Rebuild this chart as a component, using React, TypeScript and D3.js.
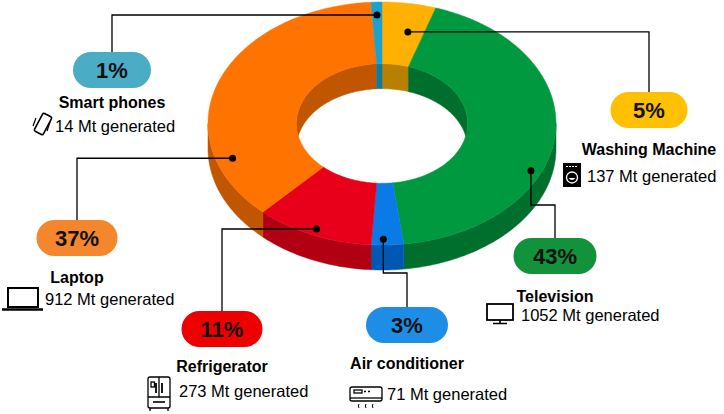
import React from "react";
import * as d3 from "d3";

// e-waste share by device, clockwise from 12 o'clock
const categories = ["Washing Machine", "Television", "Air conditioner", "Refrigerator", "Laptop", "Smart phones"];
const shares = [5, 43, 3, 11, 37, 1];
const generatedMt = [137, 1052, 71, 273, 912, 14];

// styles
const topColors = ["#ffb000", "#00993f", "#0a7ae6", "#e8001a", "#ff7300", "#1ba1cf"];
const sideColors = ["#b88000", "#006f2d", "#0058b4", "#b00012", "#c05600", "#127a9c"];
const pillColors = ["#ffc000", "#12923a", "#1e8de6", "#ee0000", "#f4862e", "#4bacc6"];

// callout layout (dot position inside the slice + label block)
type Callout = {
  t: number; // fraction along slice angle
  f: number; // radius fraction
  kind: "h" | "v";
  elbowY?: number;
  px: number; // pill centre x
  py: number; // pill top
  pw: number;
  nameY: number;
  detX: number;
  detY: number;
  icon: string;
};

const callouts: Callout[] = [
  { t: 0.62, f: 0.768, kind: "h", px: 649, py: 92, pw: 77, nameY: 155, detX: 587, detY: 182, icon: "washer" },
  { t: 0.623, f: 0.94, kind: "v", elbowY: 205, px: 555, py: 238, pw: 83, nameY: 302, detX: 521, detY: 321, icon: "tv" },
  { t: 0.625, f: 0.953, kind: "v", elbowY: 273, px: 407, py: 307, pw: 82, nameY: 369, detX: 387, detY: 400, icon: "ac" },
  { t: 0.5, f: 0.946, kind: "h", px: 222, py: 311, pw: 81, nameY: 372, detX: 179, detY: 397, icon: "fridge" },
  { t: 0.213, f: 0.905, kind: "h", px: 77, py: 220, pw: 81, nameY: 283, detX: 45, detY: 305, icon: "laptop" },
  { t: 0.49, f: 0.8935, kind: "h", px: 112, py: 52, pw: 78, nameY: 108, detX: 55, detY: 132, icon: "phone" },
];

const W = 724;
const H = 414;
const cx = 382;
const cy = 123.5;
const RX = 174;
const RY = 121.5;
const INNER = 0.492;
const DEPTH = 25;
const FONT = "'Liberation Sans', Arial, sans-serif";

const pt = (a: number, r: number, dz = 0): [number, number] => [
  cx + r * RX * Math.sin(a),
  cy - r * RY * Math.cos(a) + dz,
];

const arcPts = (a0: number, a1: number, r: number, dz: number) => {
  const n = Math.max(2, Math.ceil(Math.abs(a1 - a0) / (Math.PI / 180)) + 1);
  return d3.range(n).map((i) => pt(a0 + ((a1 - a0) * i) / (n - 1), r, dz));
};

const lineGen = d3.line();
const closed = (pts: [number, number][]) => (lineGen(pts) || "") + "Z";

const clip = (a0: number, a1: number, lo: number, hi: number): [number, number] | null => {
  const s = Math.max(a0, lo);
  const e = Math.min(a1, hi);
  return e > s ? [s, e] : null;
};

const Icon: React.FC<{ kind: string }> = ({ kind }) => {
  const st = { fill: "none", stroke: "#000" };
  switch (kind) {
    case "phone":
      return (
        <g>
          <g transform="translate(43,124) rotate(28)">
            <rect x={-5} y={-10} width={10} height={20} rx={1.5} {...st} strokeWidth={1.6} />
          </g>
          <path d="M36,118 L33,126 M50,122 L47,131" {...st} strokeWidth={1.2} />
        </g>
      );
    case "washer":
      return (
        <g>
          <rect x={563} y={163} width={18} height={24} fill="#000" />
          <path d="M566,166.5 H578" stroke="#fff" strokeWidth={1} strokeDasharray="2,1" />
          <circle cx={572} cy={177.5} r={5.5} fill="#000" stroke="#fff" strokeWidth={1.3} />
          <path d="M568.5,178 Q572,182 575.5,178" fill="#fff" />
        </g>
      );
    case "laptop":
      return (
        <g>
          <rect x={8} y={288} width={30} height={19} {...st} strokeWidth={2} />
          <path d="M2,309.5 H43" {...st} strokeWidth={2.5} />
        </g>
      );
    case "fridge":
      return (
        <g {...st} strokeWidth={1.3}>
          <rect x={148} y={377} width={22} height={31} rx={2} />
          <path d="M159,377 V397 M148,397 H170 M150,411 V408 M168,411 V408" />
          <path d="M156,383 V393 M162,383 V393" strokeWidth={1.8} />
          <rect x={151} y={382} width={3.5} height={5} />
          <path d="M153,402 H165" strokeWidth={1.6} />
        </g>
      );
    case "ac":
      return (
        <g {...st} strokeWidth={1.3}>
          <rect x={350} y={387} width={32} height={14} rx={2} />
          <path d="M350,398 H382" />
          <rect x={354} y={390} width={8} height={3} />
          <path d="M364,391.5 H366 M368,391.5 H370" />
          <path d="M359,404 q-1.5,2 0,4 M366,404 q-1.5,2 0,4 M373,404 q-1.5,2 0,4" strokeWidth={1} />
        </g>
      );
    case "tv":
      return (
        <g {...st}>
          <rect x={487} y={304} width={26} height={16} strokeWidth={1.8} />
          <path d="M500,320 V323 M493,323.5 H507" strokeWidth={1.6} />
        </g>
      );
    default:
      return null;
  }
};

const App: React.FC = () => {
  const arcs = d3.pie<number>().sort(null).value((d) => d)(shares);

  const innerWalls: JSX.Element[] = [];
  const sideWalls: JSX.Element[] = [];
  const tops: JSX.Element[] = [];

  arcs.forEach((a, i) => {
    const a0 = a.startAngle;
    const a1 = a.endAngle;
    // back inner wall, seen through the hole
    [
      [0, Math.PI / 2],
      [(3 * Math.PI) / 2, 2 * Math.PI],
    ].forEach(([lo, hi], k) => {
      const c = clip(a0, a1, lo, hi);
      if (!c) return;
      innerWalls.push(
        <path
          key={`in-${i}-${k}`}
          d={closed([...arcPts(c[0], c[1], INNER, 0), ...arcPts(c[1], c[0], INNER, DEPTH)])}
          fill={sideColors[i]}
          stroke={sideColors[i]}
          strokeWidth={0.5}
        />
      );
    });
    // front outer wall
    const s = clip(a0, a1, Math.PI / 2, (3 * Math.PI) / 2);
    if (s) {
      sideWalls.push(
        <path
          key={`side-${i}`}
          d={closed([...arcPts(s[0], s[1], 1, 0), ...arcPts(s[1], s[0], 1, DEPTH)])}
          fill={sideColors[i]}
          stroke={sideColors[i]}
          strokeWidth={0.5}
        />
      );
    }
    tops.push(
      <path
        key={`top-${i}`}
        d={closed([...arcPts(a0, a1, 1, 0), ...arcPts(a1, a0, INNER, 0)])}
        fill={topColors[i]}
        stroke={topColors[i]}
        strokeWidth={0.5}
      />
    );
  });

  return (
    <svg
      width={W}
      height={H}
      viewBox={`0 0 ${W} ${H}`}
      style={{ position: "absolute", left: 0, top: 0, background: "#fff" }}
      fontFamily={FONT}
    >
      <g>{innerWalls}</g>
      <g>{sideWalls}</g>
      <g>{tops}</g>

      {callouts.map((c, i) => {
        const a = arcs[i];
        const ang = a.startAngle + c.t * (a.endAngle - a.startAngle);
        const [dx, dy] = pt(ang, c.f);
        const d =
          c.kind === "h"
            ? `M${dx},${dy} H${c.px} V${c.py}`
            : `M${dx},${dy} V${c.elbowY} H${c.px} V${c.py}`;
        return (
          <g key={`co-${i}`}>
            <path d={d} fill="none" stroke="#000" strokeWidth={1.3} />
            <circle cx={dx} cy={dy} r={3.5} fill="#000" />
            <rect x={c.px - c.pw / 2} y={c.py} width={c.pw} height={36} rx={18} fill={pillColors[i]} />
            <text x={c.px} y={c.py + 26} textAnchor="middle" fontSize={22} fontWeight="bold" fill="#111">
              {`${shares[i]}%`}
            </text>
            <text x={c.px} y={c.nameY} textAnchor="middle" fontSize={16} fontWeight="bold" fill="#000">
              {categories[i]}
            </text>
            <Icon kind={c.icon} />
            <text x={c.detX} y={c.detY} fontSize={16.5} fill="#000">
              {`${generatedMt[i]} Mt generated`}
            </text>
          </g>
        );
      })}
    </svg>
  );
};

export default App;
